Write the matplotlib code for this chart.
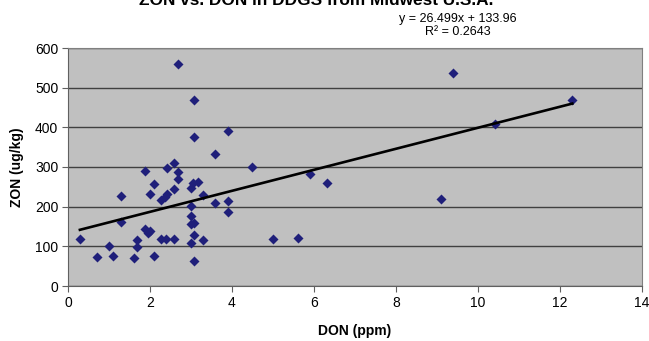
import matplotlib.pyplot as plt
import numpy as np

plt.rcParams['font.family'] = ['Liberation Sans', 'DejaVu Sans']

# DON (ppm) vs ZON (ug/kg)
don = [0.29, 0.70, 1.00, 1.09, 1.29, 1.29, 1.60, 1.68, 1.68, 1.89,
       1.89, 1.96, 2.00, 1.99, 2.10, 2.10, 2.28, 2.37, 2.41, 2.41,
       2.28, 2.39, 2.59, 2.59, 2.59, 2.69, 2.69, 2.69, 3.08, 3.08,
       3.00, 3.06, 3.18, 3.30, 3.00, 3.00, 3.00, 3.08, 3.08, 3.30,
       3.00, 3.08, 3.59, 3.59, 3.90, 3.90, 3.90, 4.48, 4.99, 5.60,
       5.90, 6.31, 9.09, 9.40, 10.41, 12.30]
zon = [118, 73, 101, 75, 226, 162, 71, 116, 99, 290,
       143, 134, 138, 231, 257, 76, 218, 225, 233, 298,
       118, 118, 118, 311, 244, 560, 288, 269, 470, 376,
       246, 259, 262, 229, 202, 176, 156, 159, 128, 116,
       108, 63, 334, 210, 390, 215, 186, 299, 119, 122,
       283, 260, 220, 538, 408, 469]

# trendline as given on the chart
slope = 26.499
intercept = 133.96
r2 = 0.2643

fig = plt.figure(figsize=(6.49, 3.41), dpi=100)
ax = fig.add_axes([68 / 649, 1 - 286 / 341, (642 - 68) / 649, (286 - 48) / 341])
ax.set_facecolor('#c0c0c0')

ax.scatter(don, zon, marker='D', s=26, color='#1f1f7a', zorder=3, linewidths=0)

xs = np.array([min(don), max(don)])
ax.plot(xs, slope * xs + intercept, color='black', lw=1.9, zorder=4)

ax.set_xlim(0, 14)
ax.set_ylim(0, 600)
ax.set_xticks(range(0, 15, 2))
ax.set_yticks(range(0, 601, 100))
ax.yaxis.grid(True, color='#404040', lw=1)
ax.set_axisbelow(True)

for side in ['top', 'right']:
    ax.spines[side].set_color('#808080')
for side in ['left', 'bottom']:
    ax.spines[side].set_color('#606060')
ax.tick_params(direction='out', length=4, color='#606060', labelsize=10, pad=3)

ax.set_xlabel('DON (ppm)', fontsize=10, fontweight='bold', labelpad=10)
ax.set_ylabel('ZON (ug/kg)', fontsize=10, fontweight='bold', labelpad=8)

# title is cut off at the top edge in the reference
fig.text(316 / 649, 1 - 5 / 341, 'ZON vs. DON in DDGS from Midwest U.S.A.',
         ha='center', va='baseline', fontsize=12.4, fontweight='bold')
fig.text(458 / 649, 1 - 19 / 341, f'y = {slope}x + {intercept}',
         ha='center', va='center', fontsize=9)
fig.text(458 / 649, 1 - 32 / 341, f'R² = {r2}',
         ha='center', va='center', fontsize=9)

fig.savefig('out.png', dpi=100)
